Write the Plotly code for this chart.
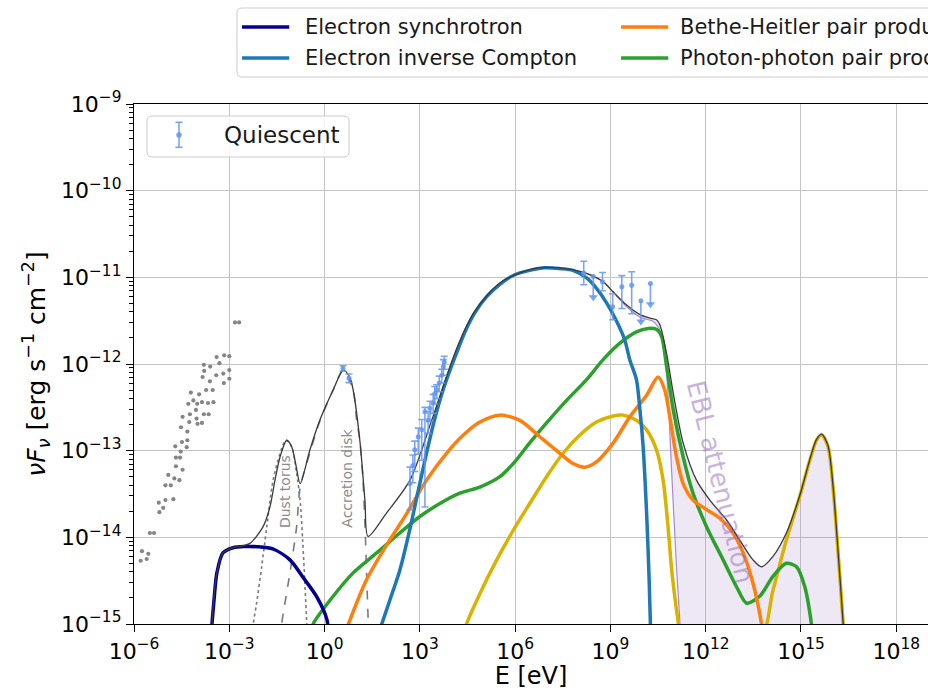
import numpy as np
import plotly.graph_objects as go

# ---------------- data (log10 E [eV], log10 nuFnu [erg s^-1 cm^-2]) ----------------
# archival low-energy photometry
arch_logE = [-5.79, -5.60, -5.75, -5.55, -5.50, -5.37, -5.20, -5.22, -5.08, -5.01, -4.76, -5.01,
             -4.84, -4.92, -4.73, -4.57, -4.68, -4.47, -4.68, -4.55, -4.53, -4.70, -4.34, -4.49,
             -4.32, -4.32, -4.52, -4.26, -4.47, -4.24, -4.03, -3.86, -4.00, -4.05, -4.01, -3.86,
             -3.80, -3.65, -3.67, -3.50, -4.29, -4.13, -4.21, -3.95, -3.73, -3.52, -3.84, -3.61,
             -3.79, -3.60, -3.80, -3.41, -3.31, -3.40, -3.17, -3.00, -3.19, -3.00, -3.16, -3.00,
             -2.82, -2.69]
arch_logF = [-14.27, -14.25, -14.16, -14.19, -13.95, -13.95, -13.71, -13.60, -13.66, -13.57, -13.56, -13.40,
             -13.40, -13.28, -13.32, -13.34, -13.18, -13.22, -13.08, -13.08, -13.01, -12.95, -12.96, -12.90,
             -12.88, -12.78, -12.73, -12.67, -12.61, -12.58, -12.63, -12.68, -12.69, -12.53, -12.46, -12.44,
             -12.58, -12.58, -12.45, -12.44, -12.46, -12.42, -12.33, -12.35, -12.30, -12.30, -12.15, -12.20,
             -12.08, -12.03, -12.01, -12.13, -11.99, -11.92, -12.22, -12.17, -12.11, -12.07, -11.90, -11.91,
             -11.52, -11.52]

# quiescent state measurements with asymmetric errors (dex)
q_logE = [0.58, 0.77,
          2.69, 2.78, 2.84, 2.95, 3.06, 3.16, 3.26, 3.32, 3.42, 3.47, 3.53, 3.61, 3.69, 3.74, 3.77,
          8.16, 8.75, 9.07, 9.36, 9.67]
q_logF = [-12.05, -12.165,
          -13.38, -13.17, -12.99, -12.84, -12.76, -12.55, -12.65, -12.51, -12.45, -12.34, -12.30, -12.22,
          -12.13, -12.03, -11.98,
          -10.95, -11.05, -11.34, -11.11, -11.09]
q_err_up = [0.03, 0.05,
            0.19, 0.12, 0.10, 0.10, 0.12, 0.05, 0.10, 0.08, 0.10, 0.08, 0.06, 0.08, 0.07, 0.08, 0.07,
            0.135, 0.105, 0.15, 0.13, 0.155]
q_err_dn = [0.03, 0.05,
            0.30, 0.20, 0.25, 0.20, 0.35, 1.10, 0.15, 0.15, 0.12, 0.12, 0.10, 0.10, 0.09, 0.10, 0.08,
            0.135, 0.105, 0.15, 0.25, 0.33]
# quiescent upper limits
ul_logE = [8.46, 9.96, 10.26]
ul_logF = [-10.99, -11.27, -11.07]
ul_len = 0.24

# thermal components
torus_logE = [-2.29, -2.245, -2.14, -1.98, -1.82, -1.62, -1.40, -1.22, -1.04, -0.88, -0.77, -0.69, -0.62, -0.56, -0.54]
torus_logF = [-15.19, -15.0, -14.76, -14.34, -13.88, -13.34, -13.03, -12.88, -12.95, -13.26, -13.57, -14.03, -14.53, -15.0, -15.19]
disk_logE = [-1.39, -1.35, -1.09, -0.88, -0.77, -0.46, -0.15, 0.27, 0.59, 0.90, 1.01, 1.11, 1.21, 1.29, 1.33, 1.375, 1.38]
disk_logF = [-15.19, -15.0, -14.41, -13.88, -13.43, -13.02, -12.66, -12.30, -12.07, -12.30, -12.65, -12.88, -13.34, -14.03, -14.49, -15.0, -15.19]

# electron synchrotron
es_logE = [-3.60, -3.545, -3.48, -3.39, -3.20, -2.88, -2.51, -2.13, -1.63, -1.09, -0.68, -0.24, 0.075, 0.13]
es_logF = [-15.3, -15.0, -14.72, -14.41, -14.18, -14.12, -14.106, -14.108, -14.134, -14.26, -14.46, -14.69, -14.95, -15.2]

# electron inverse Compton
ic_logE = [1.70, 1.80, 2.06, 2.37, 2.69, 2.95, 3.21, 3.45, 3.73, 3.95, 4.17, 4.42, 4.73, 5.11, 5.52,
           5.99, 6.46, 6.94, 7.41, 7.82, 8.26, 8.57, 8.89, 9.20, 9.45, 9.61, 9.82, 9.93, 10.03, 10.14,
           10.22, 10.26, 10.29]
ic_logF = [-15.1, -15.0, -14.72, -14.38, -13.90, -13.46, -13.03, -12.66, -12.30, -12.07, -11.86,
           -11.63, -11.41, -11.22, -11.08, -10.97, -10.92, -10.89, -10.90, -10.92, -11.01, -11.13, -11.30,
           -11.51, -11.72, -11.95, -12.18, -12.53, -12.95, -13.72, -14.49, -15.0, -15.19]

# Bethe-Heitler pair production
bh_logE = [0.68, 0.75, 1.32, 1.95, 2.58, 3.21, 3.84, 4.37, 4.89, 5.52, 6.15, 6.78, 7.41, 7.83,
           8.20, 8.56, 9.09, 9.61, 10.14, 10.50, 10.71, 10.87, 11.08, 11.29, 11.60, 12.03, 12.45,
           12.86, 13.18, 13.49, 13.76, 13.83]
bh_logF = [-15.07, -15.0, -14.49, -14.09, -13.73, -13.34, -13.03, -12.82, -12.67, -12.59, -12.65,
           -12.84, -13.03, -13.15, -13.19, -13.13, -12.91, -12.61, -12.36, -12.15, -12.30, -12.61,
           -13.07, -13.38, -13.57, -13.68, -13.78, -13.95, -14.18, -14.53, -15.0, -15.19]

# photon-photon pair production
gg_logE = [-0.42, -0.36, 0.27, 0.90, 1.64, 2.37, 3.00, 3.63, 4.26, 4.89, 5.52, 5.94, 6.46, 6.99, 7.62,
           8.25, 8.77, 9.30, 9.82, 10.19, 10.45, 10.61, 10.77, 10.98, 11.29, 11.60, 12.03, 12.55,
           12.97, 13.29, 13.70, 14.12, 14.54, 14.86, 15.12, 15.33, 15.38]
gg_logF = [-15.1, -15.0, -14.68, -14.41, -14.18, -13.95, -13.76, -13.61, -13.49, -13.42, -13.30, -13.15,
           -12.91, -12.68, -12.42, -12.18, -11.95, -11.76, -11.63, -11.59, -11.60, -11.68, -12.03,
           -12.53, -13.07, -13.49, -13.88, -14.26, -14.57, -14.76, -14.68, -14.45, -14.30, -14.34,
           -14.57, -15.0, -15.19]

# hadronic component (two humps)
had_logE = [4.40, 4.47, 4.89, 5.42, 5.94, 6.46, 6.99, 7.51, 8.04, 8.56, 9.09, 9.40, 9.82, 10.14, 10.45,
            10.66, 10.81, 10.93, 11.06, 11.14, 11.17,
            13.67, 14.12, 14.54, 14.96, 15.28, 15.49, 15.65, 15.85, 16.01, 16.17, 16.33, 16.36]
had_logF = [-15.1, -15.0, -14.65, -14.26, -13.92, -13.61, -13.30, -13.03, -12.82, -12.67, -12.60, -12.59,
            -12.65, -12.76, -12.99, -13.34, -13.86, -14.38, -14.78, -15.0, -15.19,
            -15.19, -14.61, -14.03, -13.53, -13.11, -12.88, -12.82, -12.95, -13.42, -14.18, -15.0, -15.19]

# total emission
tot_logE = [-3.56, -3.545, -3.39, -3.20, -2.88, -2.60, -2.35, -1.94, -1.72, -1.56, -1.40, -1.19, -1.03,
            -0.90, -0.77, -0.46, -0.15, 0.27, 0.59, 0.80, 0.90, 1.11, 1.27, 1.37, 1.95, 2.69, 3.41,
            4.16, 4.73, 5.52, 6.46, 7.41, 8.14, 8.77, 9.09, 9.51, 9.93, 10.24, 10.45, 10.56, 10.77,
            10.98, 11.29, 11.71, 12.13, 12.66, 13.07, 13.49, 13.76, 14.12, 14.54, 14.96, 15.28, 15.49,
            15.65, 15.85, 16.01, 16.17, 16.33, 16.36]
tot_logF = [-15.2, -15.0, -14.41, -14.18, -14.12, -14.10, -14.07, -13.88, -13.65, -13.34, -13.07, -12.88,
            -12.96, -13.17, -13.38, -12.99, -12.65, -12.30, -12.07, -12.16, -12.30, -12.88, -13.57,
            -13.99, -13.72, -13.34, -12.61, -11.82, -11.39, -11.065, -10.91, -10.89, -10.94, -11.05,
            -11.17, -11.32, -11.43, -11.47, -11.49, -11.55, -11.88, -12.34, -12.91, -13.34, -13.57,
            -13.80, -14.03, -14.26, -14.34, -14.22, -13.95, -13.52, -13.10, -12.87, -12.81, -12.94,
            -13.41, -14.17, -15.0, -15.19]

# total after EBL absorption
ebl_logE = [8.14, 8.77, 9.09, 9.51, 9.93, 10.35, 10.61, 10.77, 10.92, 11.08, 11.19, 11.25, 16.36]
ebl_logF = [-10.94, -11.05, -11.17, -11.34, -11.46, -11.51, -11.65, -12.11, -13.18, -14.34, -15.0, -16.0, -16.0]

x_tick_exp = list(range(-6, 19, 3))
y_tick_exp = list(range(-15, -8))

# ---------------- styling ----------------
FONT = "DejaVu Sans"
C_ES = "#00008b"
C_IC = "#1f77b4"
C_BH = "#ff7f0e"
C_GG = "#2ca02c"
C_HAD = "#d9b300"
C_TOT = "#3a3a3a"
C_EBL = "#a48bd3"
C_DATA = "rgba(100,149,237,0.85)"


def p(v):
    return [10.0 ** a for a in v]


def curve(lx, ly, color, width, dash="solid", shape="spline", **kw):
    return go.Scatter(x=p(lx), y=p(ly), mode="lines",
                      line=dict(color=color, width=width, dash=dash, shape=shape, smoothing=0.8),
                      showlegend=False, hoverinfo="skip", **kw)


fig = go.Figure()

# thermal components
fig.add_trace(curve(torus_logE, torus_logF, "#7a7a7a", 1.6, dash="dot"))
fig.add_trace(curve(disk_logE, disk_logF, "#7a7a7a", 1.6, dash="dash"))

# EBL-attenuated total and shaded absorbed part
fig.add_trace(curve(ebl_logE, ebl_logF, C_EBL, 1.2))
hi = [i for i, e in enumerate(tot_logE) if e >= ebl_logE[0]]
fig.add_trace(go.Scatter(x=p([tot_logE[i] for i in hi]), y=p([tot_logF[i] for i in hi]),
                         mode="lines", line=dict(width=0, shape="spline", smoothing=0.8),
                         fill="tonexty", fillcolor="rgba(148,103,189,0.16)",
                         showlegend=False, hoverinfo="skip"))

# radiative components
fig.add_trace(curve(had_logE, had_logF, C_HAD, 3.5))
fig.add_trace(curve(gg_logE, gg_logF, C_GG, 3.5))
fig.add_trace(curve(bh_logE, bh_logF, C_BH, 3.5))
fig.add_trace(curve(ic_logE, ic_logF, C_IC, 3.5))
fig.add_trace(curve(es_logE, es_logF, C_ES, 3.5))

# total
fig.add_trace(curve(tot_logE, tot_logF, C_TOT, 1.3))

# archival points
fig.add_trace(go.Scatter(x=p(arch_logE), y=p(arch_logF), mode="markers",
                         marker=dict(color="#858585", size=4.2), showlegend=False, hoverinfo="skip"))

# quiescent measurements
qF = np.array(p(q_logF))
fig.add_trace(go.Scatter(
    x=p(q_logE), y=qF, mode="markers",
    marker=dict(color=C_DATA, size=5),
    error_y=dict(type="data", symmetric=False,
                 array=qF * (10 ** np.array(q_err_up) - 1),
                 arrayminus=qF * (1 - 10 ** -np.array(q_err_dn)),
                 color=C_DATA, thickness=1.6, width=3.5),
    showlegend=False, hoverinfo="skip"))
ulF = np.array(p(ul_logF))
fig.add_trace(go.Scatter(
    x=p(ul_logE), y=ulF, mode="markers",
    marker=dict(color=C_DATA, size=5),
    error_y=dict(type="data", symmetric=False, array=ulF * 0,
                 arrayminus=ulF * (1 - 10 ** -ul_len), color=C_DATA, thickness=1.6, width=0),
    showlegend=False, hoverinfo="skip"))
fig.add_trace(go.Scatter(
    x=p(ul_logE), y=ulF * 10 ** -ul_len, mode="markers",
    marker=dict(color=C_DATA, size=8, symbol="triangle-down"),
    showlegend=False, hoverinfo="skip"))


def sup(e):
    return "10<sup>" + str(e).replace("-", "\u2212") + "</sup>"


fig.update_layout(
    width=928, height=690,
    margin=dict(l=134, r=0, t=104, b=66, autoexpand=False),
    paper_bgcolor="white", plot_bgcolor="white",
    font=dict(family=FONT, color="black", size=22),
    xaxis=dict(type="log", range=[-6, 19.0], tickmode="array",
               tickvals=[10.0 ** e for e in x_tick_exp], ticktext=[sup(e) for e in x_tick_exp],
               ticks="outside", ticklen=7, tickwidth=1.2, tickcolor="black",
               showline=True, linecolor="black", linewidth=1.3, mirror=True,
               showgrid=True, gridcolor="#c4c4c4", gridwidth=1.2, zeroline=False,
               tickfont=dict(size=22, family=FONT),
               title=dict(text="E [eV]", font=dict(size=24, family=FONT), standoff=9),
               automargin=False),
    yaxis=dict(type="log", range=[-15, -9], tickmode="array",
               tickvals=[10.0 ** e for e in y_tick_exp], ticktext=[sup(e) for e in y_tick_exp],
               ticks="outside", ticklen=7, tickwidth=1.2, tickcolor="black",
               minor=dict(tickmode="array",
                          tickvals=[k * 10.0 ** n for n in range(-15, -9) for k in range(2, 10)],
                          ticks="outside", ticklen=4, tickwidth=1, tickcolor="black", showgrid=False),
               showline=True, linecolor="black", linewidth=1.3, mirror=False,
               showgrid=True, gridcolor="#c4c4c4", gridwidth=1.2, zeroline=False,
               tickfont=dict(size=22, family=FONT),
               title=dict(text="<i>\u03bdF</i><sub><i>\u03bd</i></sub> [erg s<sup>\u22121</sup> cm<sup>\u22122</sup>]",
                          font=dict(size=25, family=FONT), standoff=8),
               automargin=False),
)

# component labels
fig.add_annotation(x=0.1902, y=0.2538, xref="paper", yref="paper", text="Dust torus",
                   xanchor="center", yanchor="middle",
                   textangle=-90, showarrow=False, font=dict(size=14, color="#8c8c8c", family=FONT))
fig.add_annotation(x=0.2679, y=0.2808, xref="paper", yref="paper", text="Accretion disk",
                   xanchor="center", yanchor="middle",
                   textangle=-90, showarrow=False, font=dict(size=14, color="#8c8c8c", family=FONT))
fig.add_annotation(x=0.739, y=0.274, xref="paper", yref="paper", text="EBL attenuation",
                   xanchor="center", yanchor="middle",
                   textangle=76, showarrow=False, font=dict(size=26, color="rgba(148,103,189,0.5)", family=FONT))


def rounded_box(x0, y0, x1, y1, rpx=5):
    rx, ry = rpx / 794.0, rpx / 520.0
    path = (f"M{x0+rx},{y0} L{x1-rx},{y0} Q{x1},{y0} {x1},{y0+ry} L{x1},{y1-ry} Q{x1},{y1} {x1-rx},{y1} "
            f"L{x0+rx},{y1} Q{x0},{y1} {x0},{y1-ry} L{x0},{y0+ry} Q{x0},{y0} {x0+rx},{y0} Z")
    fig.add_shape(type="path", path=path, xref="paper", yref="paper", layer="above",
                  fillcolor="rgba(255,255,255,0.85)", line=dict(color="#cccccc", width=1))


# model legend
rounded_box(0.1297, 1.0519, 1.03, 1.1846)
legend_rows = [
    ("Electron synchrotron", C_ES, 0.1360, 0.2128, 1.1481),
    ("Electron inverse Compton", C_IC, 0.1360, 0.2128, 1.0885),
    ("Bethe-Heitler pair production", C_BH, 0.6134, 0.6850, 1.1481),
    ("Photon-photon pair production", C_GG, 0.6134, 0.6850, 1.0885),
]
for label, col, lx, tx, ly in legend_rows:
    fig.add_shape(type="line", xref="paper", yref="paper", x0=lx, x1=lx + 0.0595, y0=ly, y1=ly,
                  line=dict(color=col, width=3.5), layer="above")
    fig.add_annotation(x=tx, y=ly, xref="paper", yref="paper", text=label, showarrow=False,
                       xanchor="left", yanchor="middle", font=dict(size=21, family=FONT, color="#1a1a1a"))

# data legend
rounded_box(0.0164, 0.8981, 0.2708, 0.9769)
fig.add_shape(type="line", xref="paper", yref="paper", x0=0.0567, x1=0.0567, y0=0.9167, y1=0.9648,
              line=dict(color=C_DATA, width=1.6), layer="above")
for yy in (0.9167, 0.9648):
    fig.add_shape(type="line", xref="paper", yref="paper", x0=0.0522, x1=0.0612, y0=yy, y1=yy,
                  line=dict(color=C_DATA, width=1.6), layer="above")
fig.add_shape(type="circle", xref="paper", yref="paper", x0=0.0567 - 0.0035, x1=0.0567 + 0.0035,
              y0=0.9404 - 0.0054, y1=0.9404 + 0.0054, fillcolor=C_DATA, line=dict(width=0), layer="above")
fig.add_annotation(x=0.1108, y=0.9404, xref="paper", yref="paper", text="Quiescent", showarrow=False,
                   xanchor="left", yanchor="middle", font=dict(size=23, family=FONT, color="#1a1a1a"))

fig.write_html("out.html")
